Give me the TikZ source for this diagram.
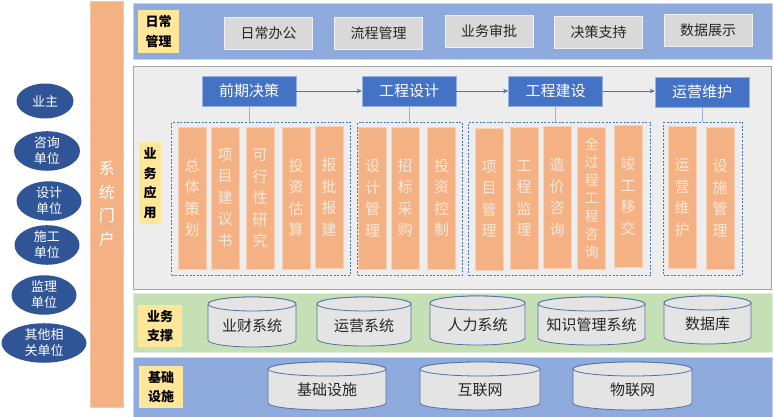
\documentclass[tikz,border=0pt]{standalone}
\usepackage{fontspec}
\setmainfont{Noto Sans CJK SC}
\usetikzlibrary{shapes.geometric,arrows.meta}
\definecolor{bandblue}{HTML}{8FAADC}
\definecolor{panelgray}{HTML}{EDEDED}
\definecolor{panelborder}{HTML}{A6A6A6}
\definecolor{bandgreen}{HTML}{C5E0B4}
\definecolor{labelyellow}{HTML}{FFE699}
\definecolor{itemgray}{HTML}{D9D9D9}
\definecolor{procblue}{HTML}{4472C4}
\definecolor{barorange}{HTML}{F4B183}
\definecolor{bartext}{HTML}{FCE8DA}
\definecolor{darkblue}{HTML}{2F5597}
\definecolor{cylfill}{HTML}{E4E4E4}
\definecolor{cylline}{HTML}{5470A3}
\definecolor{txt}{HTML}{262626}
\newcommand\dbcyl[6]{%
  \pgfmathsetmacro\cylcx{(#2+#3)/2}%
  \pgfmathsetmacro\cylrx{(#3-#2)/2}%
  \path[cylshape] (#2,417-#4-7) -- (#2,417-#5+7)
    arc[start angle=180,end angle=360,x radius=\cylrx,y radius=7]
    -- (#3,417-#4-7)
    arc[start angle=0,end angle=180,x radius=\cylrx,y radius=7] -- cycle;
  \path[cylshape] (\cylcx,417-#4-7) ellipse[x radius=\cylrx,y radius=7];
  \node[cyltext] (#1) at (\cylcx,{417-(#4+#5)/2-4}) {#6};%
}
\begin{document}
\begin{tikzpicture}[x=1pt,y=1pt,
  band/.style={draw=white!50!#1, fill=#1, line width=0.6pt, anchor=north west, inner sep=0pt},
  lab/.style={fill=labelyellow, font=\bfseries\fontsize{13}{19.5}\selectfont, align=center, inner sep=0pt, anchor=north west, text=black},
  topitem/.style={fill=itemgray, draw=white!60!itemgray, line width=0.6pt, minimum width=88pt, minimum height=32pt, inner sep=0pt, font=\fontsize{14}{16}\selectfont, text=txt},
  proc/.style={fill=procblue, draw=procblue!55!white, line width=0.6pt, text=white, minimum width=94pt, minimum height=30pt, inner sep=0pt, font=\fontsize{15}{17}\selectfont},
  bar/.style={fill=barorange, draw=barorange!60!white, line width=0.5pt, minimum width=28pt, minimum height=142pt, inner sep=0pt, text=bartext, font=\fontsize{15}{21.5}\selectfont, align=center},
  grp/.style={draw=procblue, line width=1pt, dash pattern=on 2pt off 1.6pt, inner sep=0pt, anchor=north west},
  party/.style={ellipse, fill=darkblue, text=white, font=\fontsize{13}{16}\selectfont, align=center, inner sep=0pt},
  flow/.style={draw=procblue, line width=0.6pt, -{Stealth[length=5pt,width=4.5pt]}},
  link/.style={draw=procblue!55!white, line width=0.7pt},
  cylshape/.style={fill=cylfill, draw=cylline, line width=0.8pt},
  cyltext/.style={font=\fontsize{15}{17}\selectfont, text=txt, inner sep=0pt},
  portal/.style={fill=barorange, draw=barorange!70!white, line width=0.5pt, text=white, font=\fontsize{16}{23.5}\selectfont, align=center, inner sep=0pt, anchor=north west}
]
\useasboundingbox (0,0) rectangle (774,417);

% parties
\node[party, minimum width=57pt, minimum height=35pt] (owner) at (45,417-101) {业主};
\node[party, minimum width=66pt, minimum height=35pt] (consult) at (47,417-151) {咨询\\单位};
\node[party, minimum width=65pt, minimum height=35pt] (design) at (49,417-201) {设计\\单位};
\node[party, minimum width=65pt, minimum height=35pt] (build) at (47,417-245) {施工\\单位};
\node[party, minimum width=65pt, minimum height=36pt] (super) at (44,417-295) {监理\\单位};
\node[party, minimum width=85pt, minimum height=36pt] (others) at (44,417-343) {其他相\\关单位};

% portal
\node[portal, minimum width=33pt, minimum height=406pt] (portal) at (90,417-1) {系\\统\\门\\户};

% bands
\node[band=bandblue, minimum width=639pt, minimum height=56pt] (daily) at (133,417-3) {};
\node[draw=panelborder, fill=panelgray, line width=1pt, anchor=north west, inner sep=0pt, minimum width=638pt, minimum height=223pt] (apps) at (133,417-66) {};
\node[band=bandgreen, minimum width=639pt, minimum height=59pt] (support) at (133,417-293) {};
\node[band=bandblue, minimum width=639pt, minimum height=61pt] (infra) at (133,417-357) {};

% labels
\node[lab, minimum width=41pt, minimum height=43pt] (labdaily) at (138,417-10) {日常\\管理};
\node[lab, minimum width=22pt, minimum height=82pt] (labapps) at (139,417-142) {业\\务\\应\\用};
\node[lab, minimum width=44pt, minimum height=42pt] (labsupport) at (138,417-305) {业务\\支撑};
\node[lab, minimum width=44pt, minimum height=42pt] (labinfra) at (139,417-366) {基础\\设施};

% daily items
\node[topitem] (t1) at (268.5,417-33) {日常办公};
\node[topitem] (t2) at (378.5,417-33) {流程管理};
\node[topitem] (t3) at (489,417-31) {业务审批};
\node[topitem] (t4) at (598.5,417-32) {决策支持};
\node[topitem] (t5) at (708,417-30) {数据展示};

% process boxes
\node[proc] (p1) at (249,417-91) {前期决策};
\node[proc] (p2) at (409,417-91) {工程设计};
\node[proc] (p3) at (555.5,417-91) {工程建设};
\node[proc] (p4) at (702,417-92) {运营维护};
\draw[flow] (p1.east) -- (p2.west);
\draw[flow] (p2.east) -- (p3.west);
\draw[flow] (p3.east) -- (p3.east -| p4.west);

% groups
\node[grp, minimum width=179pt, minimum height=153pt] (g1) at (171,417-122) {};
\node[grp, minimum width=105pt, minimum height=153pt] (g2) at (357,417-122) {};
\node[grp, minimum width=182pt, minimum height=153pt] (g3) at (468,417-122) {};
\node[grp, minimum width=79pt, minimum height=153pt] (g4) at (663,417-122) {};
\draw[link] (p1.south) -- (p1.south |- g1.north);
\draw[link] (p2.south) -- (p2.south |- g2.north);
\draw[link] (p3.south) -- (p3.south |- g3.north);
\draw[link] (p4.south) -- (p4.south |- g4.north);

% bars
\node[bar] (b11) at (192,417-198) {总\\体\\策\\划};
\node[bar] (b12) at (225,417-198) {项\\目\\建\\议\\书};
\node[bar] (b13) at (260,417-198.5) {可\\行\\性\\研\\究};
\node[bar] (b14) at (296,417-198) {投\\资\\估\\算};
\node[bar] (b15) at (329,417-197.5) {报\\批\\报\\建};
\node[bar] (b21) at (372.5,417-198) {设\\计\\管\\理};
\node[bar] (b22) at (405,417-198) {招\\标\\采\\购};
\node[bar] (b23) at (441.5,417-198) {投\\资\\控\\制};
\node[bar] (b31) at (489,417-199) {项\\目\\管\\理};
\node[bar] (b32) at (524,417-198.5) {工\\程\\监\\理};
\node[bar] (b33) at (557,417-197.5) {造\\价\\咨\\询};
\node[bar, font=\fontsize{14}{18}\selectfont] (b34) at (591.5,417-198) {全\\过\\程\\工\\程\\咨\\询};
\node[bar] (b35) at (628,417-196.5) {竣\\工\\移\\交};
\node[bar] (b41) at (682,417-197.5) {运\\营\\维\\护};
\node[bar] (b42) at (720,417-198) {设\\施\\管\\理};

% support systems
\dbcyl{s1}{208}{296}{297}{347}{业财系统}
\dbcyl{s2}{317}{411}{297}{346}{运营系统}
\dbcyl{s3}{430}{525}{296}{345}{人力系统}
\dbcyl{s4}{538}{645}{297}{345}{知识管理系统}
\dbcyl{s5}{664}{751}{296}{344}{数据库}

% infrastructure
\dbcyl{i1}{268}{386}{362}{410}{基础设施}
\dbcyl{i2}{420}{540}{362}{410}{互联网}
\dbcyl{i3}{573}{692}{362}{410}{物联网}
\end{tikzpicture}
\end{document}
